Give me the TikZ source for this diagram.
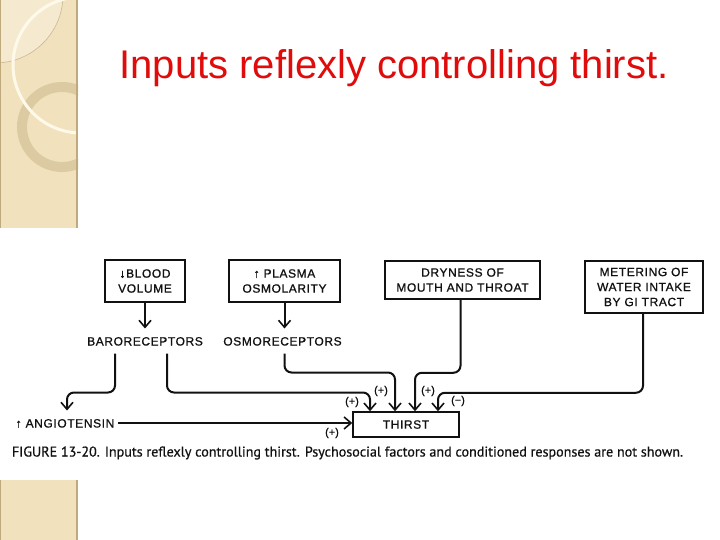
\documentclass[tikz,border=0pt]{standalone}
\usepackage{fontspec}
\setmainfont{Liberation Sans}
\newfontfamily\diagfont[FakeBold=0.9,LetterSpace=5]{Liberation Sans}
\newfontfamily\signfont[FakeBold=0.9]{Liberation Sans}
\newfontfamily\capfont[FakeBold=0.6]{PT Sans}
\usetikzlibrary{arrows.meta,calc}
\definecolor{titlered}{RGB}{224,12,12}
\definecolor{strip}{HTML}{F1E2BD}
\definecolor{stripLight}{HTML}{F5EAD0}
\definecolor{stripEdge}{HTML}{BFAA7E}
\definecolor{ringcol}{HTML}{DCCBA2}
\definecolor{arcgray}{HTML}{C9B892}
\definecolor{arcwhite}{HTML}{FFF9EA}
\definecolor{ink}{HTML}{111111}
\begin{document}
\begin{tikzpicture}[x=1pt,y=-1pt,
  box/.style={draw=ink, text=ink, line width=1.5pt, inner sep=0pt, align=center, font=\diagfont\fontsize{12}{15}\selectfont},
  txt/.style={text=ink, inner sep=0pt, outer sep=8pt, text height=9pt, text depth=0pt, font=\diagfont\fontsize{12}{15}\selectfont},
  conn/.style={draw=ink, line width=2pt, rounded corners=7pt, -{Straight Barb[length=7pt,width=12pt,line width=1.6pt]}},
  sign/.style={text=ink, inner sep=0pt, font=\signfont\fontsize{11}{13}\selectfont}]
\useasboundingbox (0,0) rectangle (720,540);
\fill[white] (0,0) rectangle (720,540);
% left decorative strip
\begin{scope}
  \clip (0,0) rectangle (78,228);
  \fill[strip] (0,0) rectangle (78,228);
  \fill[stripLight] (-5,-5) circle (68);
  \draw[arcgray, line width=0.6pt] (-5,-5) circle (68);
  \draw[ringcol, line width=10pt] (62,127) circle (40);
  \draw[arcwhite, line width=3pt] (81,65) circle (68);
\end{scope}
\draw[stripEdge, line width=2pt] (77,0) -- (77,228);
\draw[stripEdge, line width=1pt] (0.5,0) -- (0.5,228);
\fill[strip] (0,480) rectangle (78,540);
\draw[stripEdge, line width=2pt] (77,480) -- (77,540);
\draw[stripEdge, line width=1pt] (0.5,480) -- (0.5,540);

% title
\node[anchor=base, text=titlered, font=\fontsize{40}{48}\selectfont, inner sep=0pt] (title) at (394,79) {Inputs reflexly controlling thirst.};

% boxes
\node[box, minimum width=80pt, minimum height=42pt] (blood) at (145,281) {↓BLOOD\\VOLUME};
\node[box, minimum width=111pt, minimum height=42pt] (plasma) at (284.5,281) {↑ PLASMA\\OSMOLARITY};
\node[box, minimum width=155pt, minimum height=38pt] (dry) at (462.5,280) {DRYNESS OF\\MOUTH AND THROAT};
\node[box, minimum width=118pt, minimum height=52pt] (meter) at (644,287) {METERING OF\\WATER INTAKE\\BY GI TRACT};
\node[box, minimum width=106pt, minimum height=25pt] (thirst) at (406,424.5) {THIRST};

% receptor texts
\node[txt] (baro) at (145,341) {BARORECEPTORS};
\node[txt] (osmo) at (282.5,341) {OSMORECEPTORS};
\node[txt] (angio) at (65,423) {↑ ANGIOTENSIN};

% connectors
\draw[conn] (blood.south) -- (blood.south |- baro.north);
\draw[conn] (plasma.south) -- (plasma.south |- osmo.north);
\draw[conn] ([xshift=-30pt]baro.south) -- ++(0,39) -| ([xshift=2pt]angio.north);
\draw[conn] ([xshift=22pt]baro.south) -- ++(0,39) -| ([xshift=-36pt]thirst.north);
\draw[conn] ([xshift=2pt]osmo.south) -- ++(0,19) -| ([xshift=-11pt]thirst.north);
\draw[conn] ([xshift=-2pt]dry.south) -- ++(0,73) -| ([xshift=9pt]thirst.north);
\draw[conn] ([xshift=-1pt]meter.south) -- ++(0,79) -| ([xshift=32pt]thirst.north);
\draw[conn] ([xshift=-4pt]angio.east) -- (angio.east -| thirst.west);

% signs
\node[sign] (s1) at (352,402) {(+)};
\node[sign] (s2) at (381,391) {(+)};
\node[sign] (s3) at (428,391) {(+)};
\node[sign] (s4) at (458,401) {(−)};
\node[sign] (s5) at (332,433) {(+)};

% caption
\node[inner sep=0pt, text=ink] (cap) at (347.5,453) {\resizebox{671pt}{!}{\capfont\fontsize{12.5}{14}\selectfont FIGURE 13-20. Inputs reflexly controlling thirst. Psychosocial factors and conditioned responses are not shown.}};
\end{tikzpicture}
\end{document}
